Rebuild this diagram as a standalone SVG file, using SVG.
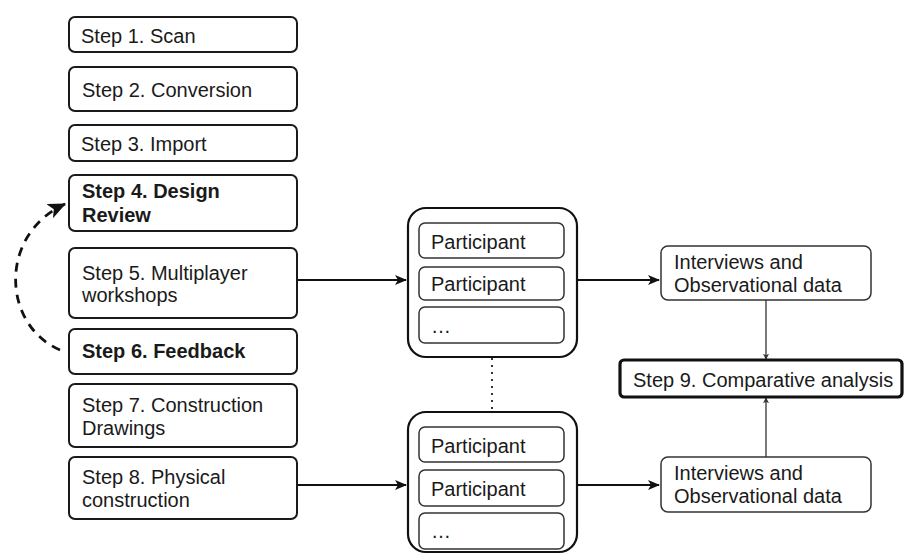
<svg xmlns="http://www.w3.org/2000/svg" width="904" height="556" viewBox="0 0 904 556">
<style>
text{font-family:"Liberation Sans",Arial,sans-serif;font-size:20px;fill:#1a1a1a}
.b{font-weight:bold}
.step{fill:#fff;stroke:#1a1a1a;stroke-width:2}
.thick{fill:#fff;stroke:#111;stroke-width:3.2}
.cont{fill:#fff;stroke:#111;stroke-width:2.2}
.inner{fill:#fff;stroke:#333;stroke-width:1.5}
.iv{fill:#fff;stroke:#333;stroke-width:1.5}
.ln{fill:none;stroke:#111;stroke-width:2}
.thin{fill:none;stroke:#333;stroke-width:1.3}
</style>
<defs>
<marker id="ah" viewBox="0 0 12 10" refX="11" refY="5" markerWidth="12" markerHeight="10" markerUnits="userSpaceOnUse" orient="auto">
<path d="M0,0 L12,5 L0,10 L3,5 Z" fill="#111"/>
</marker>
<marker id="ahs" viewBox="0 0 8 8" refX="7" refY="4" markerWidth="6" markerHeight="6" markerUnits="userSpaceOnUse" orient="auto">
<path d="M0,0 L8,4 L0,8 L2,4 Z" fill="#333"/>
</marker>
<marker id="ahb" viewBox="0 0 16 14" refX="15" refY="7" markerWidth="18" markerHeight="16" markerUnits="userSpaceOnUse" orient="auto">
<path d="M0,0 L16,7 L0,14 L4,7 Z" fill="#111"/>
</marker>
</defs>

<g id="connectors">
<line class="ln" x1="297" y1="280" x2="406" y2="280" marker-end="url(#ah)"/>
<line class="ln" x1="297" y1="485" x2="406" y2="485" marker-end="url(#ah)"/>
<line class="ln" x1="577" y1="280" x2="659" y2="280" marker-end="url(#ah)"/>
<line class="ln" x1="577" y1="485" x2="659" y2="485" marker-end="url(#ah)"/>
<line class="thin" x1="766" y1="300" x2="766" y2="359" marker-end="url(#ahs)"/>
<line class="thin" x1="766" y1="457" x2="766" y2="398" marker-end="url(#ahs)"/>
<line x1="492" y1="358" x2="492" y2="411" stroke="#333" stroke-width="2" stroke-dasharray="2 5"/>
<path d="M60,350 C2,325 -2,235 65,204" fill="none" stroke="#111" stroke-width="2.8" stroke-dasharray="9 7" marker-end="url(#ahb)"/>
</g>

<g id="step1"><rect class="step" x="69" y="17" width="228" height="35" rx="6"/><text x="81" y="43">Step 1. Scan</text></g>
<g id="step2"><rect class="step" x="69" y="67" width="228" height="44" rx="6"/><text x="82" y="97">Step 2. Conversion</text></g>
<g id="step3"><rect class="step" x="69" y="125" width="228" height="36" rx="6"/><text x="81" y="151">Step 3. Import</text></g>
<g id="step4"><rect class="step" x="69" y="175" width="228" height="56" rx="6"/><text class="b" x="82" y="198">Step 4. Design</text><text class="b" x="82" y="222">Review</text></g>
<g id="step5"><rect class="step" x="69" y="248" width="228" height="70" rx="6"/><text x="82" y="280">Step 5. Multiplayer</text><text x="82" y="302">workshops</text></g>
<g id="step6"><rect class="step" x="69" y="329" width="228" height="45" rx="6"/><text class="b" x="82" y="358">Step 6. Feedback</text></g>
<g id="step7"><rect class="step" x="69" y="384" width="228" height="63" rx="6"/><text x="82" y="412">Step 7. Construction</text><text x="82" y="435">Drawings</text></g>
<g id="step8"><rect class="step" x="69" y="457" width="228" height="62" rx="6"/><text x="82" y="484">Step 8. Physical</text><text x="82" y="507">construction</text></g>

<g id="group1">
<rect class="cont" x="408" y="208" width="169" height="149" rx="18"/>
<rect class="inner" x="419" y="223" width="145" height="35" rx="6"/><text x="431" y="249">Participant</text>
<rect class="inner" x="419" y="267" width="145" height="33" rx="6"/><text x="431" y="291">Participant</text>
<rect class="inner" x="419" y="307" width="145" height="36" rx="6"/><text x="431" y="333">…</text>
</g>
<g id="group2">
<rect class="cont" x="408" y="412" width="169" height="140" rx="18"/>
<rect class="inner" x="419" y="427" width="145" height="35" rx="6"/><text x="431" y="453">Participant</text>
<rect class="inner" x="419" y="470" width="145" height="36" rx="6"/><text x="431" y="496">Participant</text>
<rect class="inner" x="419" y="513" width="145" height="36" rx="6"/><text x="431" y="538">…</text>
</g>

<g id="interviews1"><rect class="iv" x="661" y="246" width="210" height="54" rx="7"/><text x="674" y="269">Interviews and</text><text x="674" y="292">Observational data</text></g>
<g id="interviews2"><rect class="iv" x="661" y="457" width="210" height="55" rx="7"/><text x="674" y="480">Interviews and</text><text x="674" y="503">Observational data</text></g>
<g id="step9"><rect class="thick" x="620" y="360" width="282" height="37" rx="4"/><text x="633" y="387">Step 9. Comparative analysis</text></g>
</svg>
